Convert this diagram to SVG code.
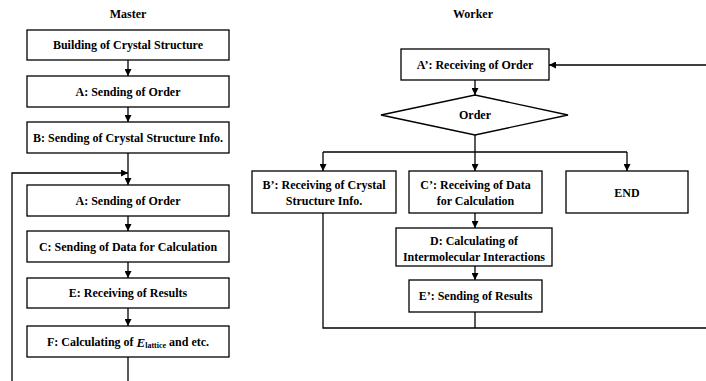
<svg xmlns="http://www.w3.org/2000/svg" width="706" height="381" viewBox="0 0 706 381">
<defs>
<style>
.box{fill:#fff;stroke:#000;stroke-width:1.3}
.ln{fill:none;stroke:#000;stroke-width:1.3}
.t{font-family:"Liberation Serif","Times New Roman",serif;font-size:12px;font-weight:bold;text-anchor:middle;fill:#000;dominant-baseline:central}
</style>
<marker id="ah" markerUnits="userSpaceOnUse" markerWidth="7" markerHeight="7" refX="7" refY="3.5" orient="auto">
<path d="M0,0 L7,3.5 L0,7 z" fill="#000"/>
</marker>
</defs>
<rect width="706" height="381" fill="#fff"/>
<text class="t" x="128" y="14">Master</text>
<text class="t" x="473" y="14">Worker</text>
<g id="connectors">
<line class="ln" x1="128" y1="60" x2="128" y2="76" marker-end="url(#ah)"/>
<line class="ln" x1="128" y1="107" x2="128" y2="122" marker-end="url(#ah)"/>
<line class="ln" x1="128" y1="153" x2="128" y2="185" marker-end="url(#ah)"/>
<polyline class="ln" points="12,381 12,173 128,173" marker-end="url(#ah)"/>
<line class="ln" x1="128" y1="216" x2="128" y2="231" marker-end="url(#ah)"/>
<line class="ln" x1="128" y1="262" x2="128" y2="278" marker-end="url(#ah)"/>
<line class="ln" x1="128" y1="308" x2="128" y2="326" marker-end="url(#ah)"/>
<line class="ln" x1="128" y1="357" x2="128" y2="381"/>
<line class="ln" x1="706" y1="65" x2="549" y2="65" marker-end="url(#ah)"/>
<line class="ln" x1="475" y1="80" x2="475" y2="95" marker-end="url(#ah)"/>
<line class="ln" x1="475" y1="135" x2="475" y2="152"/>
<line class="ln" x1="323" y1="152" x2="627" y2="152"/>
<line class="ln" x1="323" y1="152" x2="323" y2="171" marker-end="url(#ah)"/>
<line class="ln" x1="475" y1="152" x2="475" y2="171" marker-end="url(#ah)"/>
<line class="ln" x1="627" y1="152" x2="627" y2="171" marker-end="url(#ah)"/>
<line class="ln" x1="475" y1="213" x2="475" y2="228" marker-end="url(#ah)"/>
<line class="ln" x1="475" y1="266" x2="475" y2="280" marker-end="url(#ah)"/>
<line class="ln" x1="475" y1="312" x2="475" y2="328"/>
<polyline class="ln" points="323,213 323,328 706,328"/>
</g>
<g id="m1"><rect class="box" x="27" y="30" width="202" height="30"/><text class="t" x="128" y="45">Building of Crystal Structure</text></g>
<g id="m2"><rect class="box" x="27" y="76" width="202" height="31"/><text class="t" x="128" y="91.5">A: Sending of Order</text></g>
<g id="m3"><rect class="box" x="27" y="122" width="202" height="31"/><text class="t" x="128" y="137.5">B: Sending of Crystal Structure Info.</text></g>
<g id="m4"><rect class="box" x="27" y="185" width="202" height="31"/><text class="t" x="128" y="200.5">A: Sending of Order</text></g>
<g id="m5"><rect class="box" x="27" y="231" width="202" height="31"/><text class="t" x="128" y="246.5">C: Sending of Data for Calculation</text></g>
<g id="m6"><rect class="box" x="27" y="278" width="202" height="30"/><text class="t" x="128" y="293">E: Receiving of Results</text></g>
<g id="m7"><rect class="box" x="27" y="326" width="202" height="31"/><text class="t" x="128" y="341.5">F: Calculating of <tspan font-style="italic" font-size="13">E</tspan><tspan font-size="8" dy="3">lattice</tspan><tspan dy="-3"> and etc.</tspan></text></g>
<g id="w1"><rect class="box" x="401" y="49" width="148" height="31"/><text class="t" x="475" y="64.5">A’: Receiving of Order</text></g>
<g id="w2"><polygon class="box" points="381,115 475,95 568,115 475,135"/><text class="t" x="475" y="115">Order</text></g>
<g id="w3"><rect class="box" x="252" y="171" width="144" height="42"/><text class="t" x="324" y="185">B’: Receiving of Crystal</text><text class="t" x="324" y="201">Structure Info.</text></g>
<g id="w4"><rect class="box" x="409" y="171" width="133" height="42"/><text class="t" x="475.5" y="185">C’: Receiving of Data</text><text class="t" x="475.5" y="201">for Calculation</text></g>
<g id="w5"><rect class="box" x="566" y="171" width="122" height="42"/><text class="t" x="627" y="193">END</text></g>
<g id="w6"><rect class="box" x="396" y="228" width="156" height="38"/><text class="t" x="474" y="240.5">D: Calculating of</text><text class="t" x="474" y="256.5">Intermolecular Interactions</text></g>
<g id="w7"><rect class="box" x="409" y="280" width="133" height="32"/><text class="t" x="475.5" y="296">E’: Sending of Results</text></g>
</svg>
